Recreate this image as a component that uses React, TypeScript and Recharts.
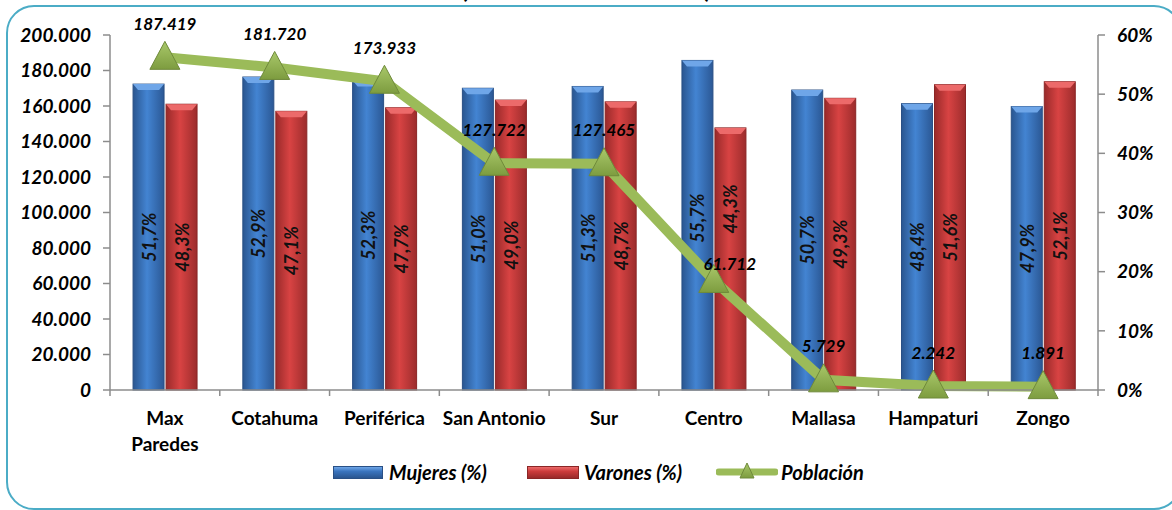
import {
  ComposedChart,
  Bar,
  Line,
  XAxis,
  YAxis,
  LabelList,
} from "recharts";

const distritos = [
  "Max Paredes",
  "Cotahuma",
  "Periférica",
  "San Antonio",
  "Sur",
  "Centro",
  "Mallasa",
  "Hampaturi",
  "Zongo",
];
const mujeresPct = [51.7, 52.9, 52.3, 51.0, 51.3, 55.7, 50.7, 48.4, 47.9];
const varonesPct = [48.3, 47.1, 47.7, 49.0, 48.7, 44.3, 49.3, 51.6, 52.1];
const poblacion = [187419, 181720, 173933, 127722, 127465, 61712, 5729, 2242, 1891];

const ticksPoblacion = [0, 20000, 40000, 60000, 80000, 100000, 120000, 140000, 160000, 180000, 200000];
const ticksPct = [0, 10, 20, 30, 40, 50, 60];

const data = distritos.map((d, i) => ({
  distrito: d,
  mujeres: mujeresPct[i],
  varones: varonesPct[i],
  poblacion: poblacion[i],
}));

const FONT = "Lato, 'Open Sans', sans-serif";
const PLOT_LEFT = 110;
const PLOT_RIGHT = 1098;
const BAND = (PLOT_RIGHT - PLOT_LEFT) / distritos.length;
const CENTRO = 5; // labels moved by hand in the original around the line

const fmtMiles = (v: number) => v.toLocaleString("de-DE");
const fmtPct = (v: number) => v.toFixed(1).replace(".", ",") + "%";

function BevelBar(props: any) {
  const { x, y, width, height, gradId, top, edge } = props;
  if (!height || height <= 0) return null;
  const b = 6;
  return (
    <g>
      <rect x={x} y={y} width={width} height={height} fill={`url(#${gradId})`} stroke={edge} strokeWidth={1} />
      <polygon
        points={`${x},${y} ${x + width},${y} ${x + width - 5},${y + b} ${x + 5},${y + b}`}
        fill={top}
      />
    </g>
  );
}

function XTick(props: any) {
  const { x, y, payload } = props;
  const words: string[] = payload.value === "Max Paredes" ? ["Max", "Paredes"] : [payload.value];
  return (
    <g>
      <line x1={x - BAND / 2} y1={y - 8} x2={x - BAND / 2} y2={y - 2} stroke="#8c8c8c" strokeWidth={1.5} />
      {payload.index === distritos.length - 1 && (
        <line x1={x + BAND / 2} y1={y - 8} x2={x + BAND / 2} y2={y - 2} stroke="#8c8c8c" strokeWidth={1.5} />
      )}
      <text textAnchor="middle" fontFamily={FONT} fontWeight={700} fontSize={19} fill="#000">
        {words.map((w, i) => (
          <tspan key={i} x={x} y={y + 27 + i * 26}>
            {w}
          </tspan>
        ))}
      </text>
    </g>
  );
}

function PctLabel(props: any) {
  const { x, y, width, height, value, index, centroShift } = props;
  const cx = x + width / 2;
  const cy = y + height / 2 + (index === CENTRO ? centroShift : 0);
  return (
    <text
      x={cx}
      y={cy}
      transform={`rotate(-90 ${cx} ${cy})`}
      textAnchor="middle"
      dominantBaseline="central"
      fontFamily={FONT}
      fontWeight={700}
      fontStyle="italic"
      fontSize={18}
      fill="#111"
    >
      {fmtPct(value)}
    </text>
  );
}

function PobLabel(props: any) {
  const { x, y, value, index } = props;
  const dx = index === CENTRO ? 16 : 0;
  const dy = index === CENTRO ? -17 : -34;
  return (
    <text
      x={x + dx}
      y={y + dy}
      textAnchor="middle"
      dominantBaseline="central"
      fontFamily={FONT}
      fontWeight={700}
      fontStyle="italic"
      fontSize={17}
      fill="#000"
    >
      {fmtMiles(value)}
    </text>
  );
}

function Triangle(props: any) {
  const { cx, cy } = props;
  if (cx == null || cy == null) return null;
  return (
    <polygon
      points={`${cx},${cy - 16} ${cx + 15},${cy + 12} ${cx - 15},${cy + 12}`}
      fill="url(#gGreen)"
      stroke="#6f8a3a"
      strokeWidth={1}
    />
  );
}

const tickStyle = { fontFamily: FONT, fontWeight: 700, fontStyle: "italic", fontSize: 19, fill: "#000" };

export default function App() {
  return (
    <div style={{ position: "absolute", left: 0, top: 0, width: 1172, height: 510, overflow: "hidden", background: "#fff" }}>
      <div
        style={{
          position: "absolute",
          left: 6,
          top: 5,
          width: 1172,
          height: 501,
          border: "2px solid #4bacc6",
          borderRadius: 28,
        }}
      />
      <div
        style={{
          position: "absolute",
          left: 0,
          width: 1172,
          top: -23,
          textAlign: "center",
          fontFamily: FONT,
          fontWeight: 700,
          fontSize: 24,
          lineHeight: "24px",
          color: "#000",
        }}
      >
        (Número de habitantes)
      </div>
      <ComposedChart
        width={1172}
        height={510}
        data={data}
        margin={{ top: 35, right: 0, bottom: 60, left: 0 }}
        barCategoryGap="21%"
        barGap={2}
        style={{ position: "absolute", left: 0, top: 0 }}
      >
        <defs>
          <linearGradient id="gBlue" x1="0" y1="0" x2="1" y2="0">
            <stop offset="0%" stopColor="#2a5690" />
            <stop offset="45%" stopColor="#4384d2" />
            <stop offset="100%" stopColor="#2b5895" />
          </linearGradient>
          <linearGradient id="gRed" x1="0" y1="0" x2="1" y2="0">
            <stop offset="0%" stopColor="#992a2a" />
            <stop offset="45%" stopColor="#d84343" />
            <stop offset="100%" stopColor="#9c2c2c" />
          </linearGradient>
          <linearGradient id="gGreen" x1="0" y1="0" x2="0" y2="1">
            <stop offset="0%" stopColor="#a9c86a" />
            <stop offset="100%" stopColor="#7d9c3f" />
          </linearGradient>
        </defs>
        <XAxis
          dataKey="distrito"
          interval={0}
          height={60}
          tickLine={false}
          axisLine={{ stroke: "#8c8c8c", strokeWidth: 1.5 }}
          tick={<XTick />}
        />
        <YAxis
          yAxisId="pob"
          orientation="left"
          width={110}
          domain={[0, 200000]}
          ticks={ticksPoblacion}
          tickFormatter={fmtMiles}
          tickSize={7}
          tickMargin={12}
          axisLine={{ stroke: "#8c8c8c", strokeWidth: 1.5 }}
          tickLine={{ stroke: "#8c8c8c", strokeWidth: 1.5 }}
          tick={tickStyle}
        />
        <YAxis
          yAxisId="pct"
          orientation="right"
          width={74}
          domain={[0, 60]}
          ticks={ticksPct}
          tickFormatter={(v: number) => v + "%"}
          tickSize={7}
          tickMargin={12}
          axisLine={{ stroke: "#8c8c8c", strokeWidth: 1.5 }}
          tickLine={{ stroke: "#8c8c8c", strokeWidth: 1.5 }}
          tick={tickStyle}
        />
        <Bar
          yAxisId="pct"
          dataKey="mujeres"
          name="Mujeres (%)"
          fill="#4f81bd"
          isAnimationActive={false}
          shape={<BevelBar gradId="gBlue" top="#6fa6e8" edge="#2a5085" />}
        >
          <LabelList dataKey="mujeres" content={<PctLabel centroShift={-7} />} />
        </Bar>
        <Bar
          yAxisId="pct"
          dataKey="varones"
          name="Varones (%)"
          fill="#c0504d"
          isAnimationActive={false}
          shape={<BevelBar gradId="gRed" top="#ec6a6a" edge="#8a2626" />}
        >
          <LabelList dataKey="varones" content={<PctLabel centroShift={-50} />} />
        </Bar>
        <Line
          yAxisId="pob"
          dataKey="poblacion"
          name="Población"
          stroke="#9bbb59"
          strokeWidth={10}
          dot={<Triangle />}
          activeDot={false}
          isAnimationActive={false}
        >
          <LabelList dataKey="poblacion" content={<PobLabel />} />
        </Line>
      </ComposedChart>
      <div
        style={{
          position: "absolute",
          top: 459,
          left: 0,
          width: 1172,
          fontFamily: FONT,
          fontWeight: 700,
          fontStyle: "italic",
          fontSize: 20,
          color: "#000",
        }}
      >
        <div style={{ position: "absolute", left: 333, top: 7, width: 48, height: 11, background: "linear-gradient(#6fa6e8, #3a74be 40%, #2a5690)", border: "1px solid #2a5085" }} />
        <div style={{ position: "absolute", left: 389, top: 0, lineHeight: "26px" }}>Mujeres (%)</div>
        <div style={{ position: "absolute", left: 527, top: 7, width: 50, height: 11, background: "linear-gradient(#ec6a6a, #cc3c3c 40%, #992a2a)", border: "1px solid #8a2626" }} />
        <div style={{ position: "absolute", left: 584, top: 0, lineHeight: "26px" }}>Varones (%)</div>
        <svg style={{ position: "absolute", left: 716, top: 0 }} width={62} height={26}>
          <defs>
            <linearGradient id="gGreenL" x1="0" y1="0" x2="0" y2="1">
              <stop offset="0%" stopColor="#a9c86a" />
              <stop offset="100%" stopColor="#7d9c3f" />
            </linearGradient>
          </defs>
          <line x1={3} y1={13} x2={59} y2={13} stroke="#9bbb59" strokeWidth={7} strokeLinecap="round" />
          <polygon points="31,4 38,19 24,19" fill="url(#gGreenL)" stroke="#6f8a3a" strokeWidth={1} />
        </svg>
        <div style={{ position: "absolute", left: 781, top: 0, lineHeight: "26px" }}>Población</div>
      </div>
    </div>
  );
}
